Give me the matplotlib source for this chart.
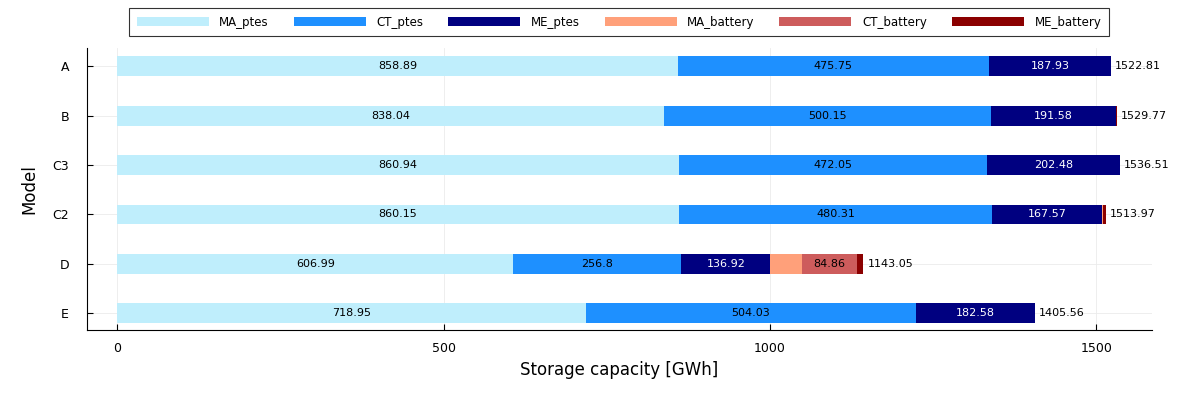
import matplotlib.pyplot as plt
import numpy as np

models = ["A", "B", "C3", "C2", "D", "E"]
series = ["MA_ptes", "CT_ptes", "ME_ptes", "MA_battery", "CT_battery", "ME_battery"]
colors = ["#bfeefc", "#1e90ff", "#000080", "#ffa07a", "#cd5c5c", "#8b0000"]

MA_ptes = [858.89, 838.04, 860.94, 860.15, 606.99, 718.95]
CT_ptes = [475.75, 500.15, 472.05, 480.31, 256.8, 504.03]
ME_ptes = [187.93, 191.58, 202.48, 167.57, 136.92, 182.58]
MA_battery = [0.0, 0.0, 0.0, 2.6, 48.2, 0.0]
CT_battery = [0.0, 0.0, 0.0, 0.0, 84.86, 0.0]
ME_battery = [0.24, 1.0, 1.04, 3.34, 9.28, 0.0]
totals = [1522.81, 1529.77, 1536.51, 1513.97, 1143.05, 1405.56]

data = [MA_ptes, CT_ptes, ME_ptes, MA_battery, CT_battery, ME_battery]
# which series get a value label inside the bar, and text colour
label_color = {"MA_ptes": "black", "CT_ptes": "black", "ME_ptes": "white", "CT_battery": "black"}

fig = plt.figure(figsize=(12, 4), dpi=100)
ax = fig.add_axes([0.0725, 0.175, 0.8875, 0.705])

y = np.arange(len(models))
left = np.zeros(len(models))
for name, vals, c in zip(series, data, colors):
    vals = np.array(vals)
    ax.barh(y, vals, left=left, height=0.4, color=c, label=name, zorder=2)
    if name in label_color:
        for yi, l, v in zip(y, left, vals):
            if v > 20:
                ax.text(l + v / 2, yi, f"{v:g}", ha="center", va="center",
                        fontsize=8, color=label_color[name], zorder=3)
    left += vals

for yi, l, t in zip(y, left, totals):
    ax.text(l + 6, yi, f"{t:.2f}", ha="left", va="center", fontsize=8, zorder=3)

ax.set_yticks(y)
ax.set_yticklabels(models)
ax.set_ylim(len(models) - 1 + 0.34, -0.37)
ax.set_xlim(-46, 1585)
ax.set_xticks([0, 500, 1000, 1500])
ax.set_xlabel("Storage capacity [GWh]", fontsize=12, labelpad=4)
ax.set_ylabel("Model", fontsize=12, labelpad=10)
ax.tick_params(direction="in", labelsize=9, length=4)
ax.tick_params(axis="x", pad=9)
ax.tick_params(axis="y", pad=13)
ax.spines["top"].set_visible(False)
ax.spines["right"].set_visible(False)
ax.grid(color="#ebebeb", linewidth=0.6, zorder=0)
ax.set_axisbelow(True)

leg = ax.legend(ncol=6, loc="lower center", bbox_to_anchor=(0.4995, 1.02),
                fontsize=8.5, frameon=True, fancybox=False, edgecolor="black",
                handlelength=6.1, handleheight=0.75, handletextpad=0.9,
                columnspacing=2.1, borderpad=0.65)
leg.get_frame().set_linewidth(0.8)

plt.savefig("out.png")
